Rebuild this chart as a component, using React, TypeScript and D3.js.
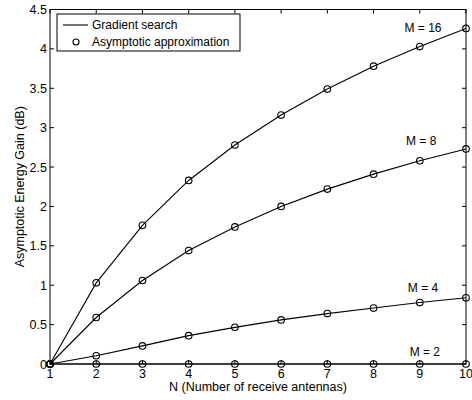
import React from "react";
import * as d3 from "d3";

const N = [1, 2, 3, 4, 5, 6, 7, 8, 9, 10];
const gainM16 = [0, 1.03, 1.76, 2.33, 2.78, 3.16, 3.49, 3.78, 4.03, 4.26];
const gainM8 = [0, 0.59, 1.06, 1.44, 1.74, 2.0, 2.22, 2.41, 2.58, 2.73];
const gainM4 = [0, 0.105, 0.23, 0.36, 0.465, 0.56, 0.64, 0.71, 0.78, 0.84];
const gainM2 = [0, 0, 0, 0, 0, 0, 0, 0, 0, 0];
const seriesLabels = ["M = 16", "M = 8", "M = 4", "M = 2"];
const yTicks = [0, 0.5, 1, 1.5, 2, 2.5, 3, 3.5, 4, 4.5];
const xTicks = [1, 2, 3, 4, 5, 6, 7, 8, 9, 10];
const legendLabels = ["Gradient search", "Asymptotic approximation"];

const W = 472, H = 400;
const left = 50, right = 466, top = 9.5, bottom = 364;
const font = "'Liberation Sans', Arial, Helvetica, sans-serif";

export default function App() {
  const x = d3.scaleLinear().domain([1, 10]).range([left, right]);
  const y = d3.scaleLinear().domain([0, 4.5]).range([bottom, top]);
  const series = [gainM16, gainM8, gainM4, gainM2];
  const line = d3.line<number>().x((_, i) => x(N[i])).y((d) => y(d));
  const labelPos = [
    { lx: 9.07, ly: 4.22 },
    { lx: 9.03, ly: 2.78 },
    { lx: 9.07, ly: 0.92 },
    { lx: 9.11, ly: 0.1 },
  ];
  return (
    <svg width={W} height={H} style={{ position: "absolute", left: 0, top: 0, background: "#fff" }}>
      <rect x={0} y={0} width={W} height={H} fill="#fff" />
      {series.map((s, k) => (
        <g key={k}>
          <path d={line(s) || ""} fill="none" stroke="#000" strokeWidth={1.1} />
          {s.map((v, i) => (
            <circle key={i} cx={x(N[i])} cy={y(v)} r={3.3} fill="none" stroke="#000" strokeWidth={1.1} />
          ))}
          <text x={x(labelPos[k].lx)} y={y(labelPos[k].ly)} fontFamily={font} fontSize={12} textAnchor="middle" fill="#000">
            {seriesLabels[k]}
          </text>
        </g>
      ))}
      {/* axes box */}
      <rect x={left} y={top} width={right - left} height={bottom - top} fill="none" stroke="#000" strokeWidth={1} />
      {xTicks.map((t) => (
        <g key={"x" + t}>
          <line x1={x(t)} x2={x(t)} y1={bottom} y2={bottom - 4} stroke="#000" />
          <line x1={x(t)} x2={x(t)} y1={top} y2={top + 4} stroke="#000" />
          <text x={x(t)} y={bottom + 14} fontFamily={font} fontSize={12.5} textAnchor="middle" fill="#000">{t}</text>
        </g>
      ))}
      {yTicks.map((t) => (
        <g key={"y" + t}>
          <line x1={left} x2={left + 4} y1={y(t)} y2={y(t)} stroke="#000" />
          <line x1={right} x2={right - 4} y1={y(t)} y2={y(t)} stroke="#000" />
          <text x={left - 3} y={y(t) + 4.5} fontFamily={font} fontSize={12.5} textAnchor="end" fill="#000">{t}</text>
        </g>
      ))}
      <text x={258} y={391} fontFamily={font} fontSize={12.5} textAnchor="middle" fill="#000">
        N (Number of receive antennas)
      </text>
      <text transform={`translate(24, ${(top + bottom) / 2}) rotate(-90)`} fontFamily={font} fontSize={12.5} textAnchor="middle" fill="#000">
        Asymptotic Energy Gain (dB)
      </text>
      {/* legend */}
      <rect x={57} y={14} width={183} height={37} fill="#fff" stroke="#000" strokeWidth={1} />
      <line x1={63} x2={88} y1={25} y2={25} stroke="#000" strokeWidth={1.1} />
      <text x={92} y={29} fontFamily={font} fontSize={12} fill="#000">{legendLabels[0]}</text>
      <circle cx={76} cy={42} r={3} fill="none" stroke="#000" strokeWidth={1.1} />
      <text x={92} y={46} fontFamily={font} fontSize={12} fill="#000">{legendLabels[1]}</text>
    </svg>
  );
}
